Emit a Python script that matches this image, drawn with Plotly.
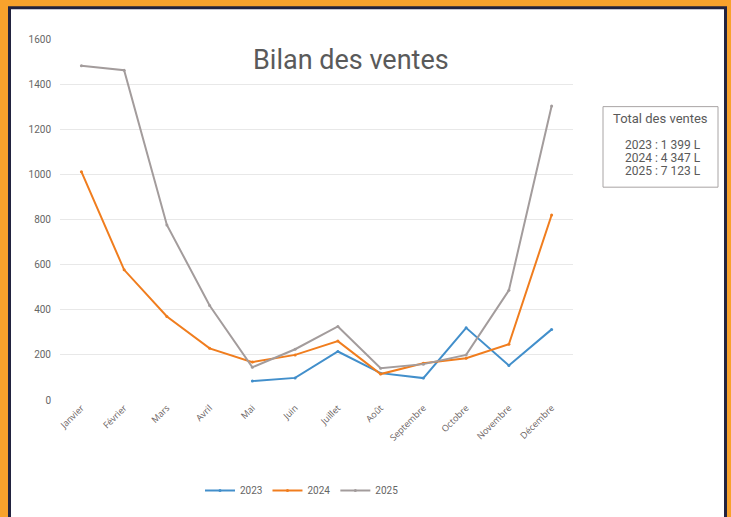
import plotly.graph_objects as go

months = ["Janvier", "Février", "Mars", "Avril", "Mai", "Juin", "Juillet", "Août",
          "Septembre", "Octobre", "Novembre", "Décembre"]
v2023 = [None, None, None, None, 84, 98, 215, 119, 97, 320, 153, 313]
v2024 = [1012, 577, 370, 229, 168, 200, 261, 115, 163, 185, 247, 820]
v2025 = [1481, 1462, 776, 419, 145, 225, 326, 141, 159, 200, 486, 1303]
series_names = ["2023", "2024", "2025"]
colors = ["#428fcb", "#f07d1e", "#a39c9c"]
y_ticks = [0, 200, 400, 600, 800, 1000, 1200, 1400, 1600]
totals_title = "Total des ventes"
totals_lines = ["2023 : 1 399 L", "2024 : 4 347 L", "2025 : 7 123 L"]

W, H = 731, 517
L, R, T, B = 60, 158, 39, 115
PW, PH = W - L - R, H - T - B

def px(x):
    return (x - L) / PW

def py(y):
    return 1 - (y - T) / PH

fig = go.Figure()
for name, vals, c in zip(series_names, [v2023, v2024, v2025], colors):
    fig.add_trace(go.Scatter(x=months, y=vals, name=name, mode="lines+markers",
                             line=dict(color=c, width=2),
                             marker=dict(color=c, size=3),
                             connectgaps=False))

# frame: orange background, navy line, white card
shapes = [
    dict(type="rect", xref="paper", yref="paper", x0=px(8), x1=px(727), y0=py(6), y1=py(H + 10),
         fillcolor="#22233f", line=dict(width=0), layer="below"),
    dict(type="rect", xref="paper", yref="paper", x0=px(11), x1=px(724), y0=py(9), y1=py(H + 10),
         fillcolor="white", line=dict(width=0), layer="below"),
    dict(type="rect", xref="paper", yref="paper", x0=px(603), x1=px(718), y0=py(107), y1=py(188),
         fillcolor="rgba(0,0,0,0)", line=dict(color="#a8a4a4", width=1)),
]

annotations = [
    dict(text="Bilan des ventes", xref="paper", yref="paper", x=px(351), y=py(60),
         showarrow=False, font=dict(family="Roboto", size=27, color="#5a5a5a"),
         xanchor="center", yanchor="middle"),
    dict(text=totals_title, xref="paper", yref="paper", x=px(660), y=py(119),
         showarrow=False, font=dict(family="Roboto", size=13, color="#5a5a5a"),
         xanchor="center", yanchor="middle"),
]
for i, line in enumerate(totals_lines):
    annotations.append(dict(text=line, xref="paper", yref="paper", x=px(663), y=py(146 + 13 * i),
                            showarrow=False, font=dict(family="Roboto", size=12, color="#5a5a5a"),
                            xanchor="center", yanchor="middle"))

fig.update_layout(
    width=W, height=H,
    margin=dict(l=L, r=R, t=T, b=B, pad=0),
    paper_bgcolor="#f8a22c", plot_bgcolor="rgba(0,0,0,0)",
    shapes=shapes, annotations=annotations,
    showlegend=True,
    legend=dict(orientation="h", x=px(302), xanchor="center", y=py(493), yanchor="middle",
                font=dict(family="Roboto", size=10, color="#666"), itemwidth=30,
                bgcolor="rgba(0,0,0,0)"),
    xaxis=dict(type="category", range=[-0.5, 11.5], tickangle=-45, showgrid=False,
               showline=False, ticks="", tickfont=dict(family="Open Sans", size=9, color="#6a6262")),
    yaxis=dict(range=[0, 1600], tickvals=y_ticks, showgrid=True, gridcolor="#e8e8e8",
               gridwidth=1, zeroline=False, showline=False, ticks="",
               tickfont=dict(family="Roboto", size=10, color="#666"), ticklabelstandoff=8),
)

fig.write_html(
    "out.html",
    config={"displayModeBar": False},
    post_script="document.body.style.margin='0';document.body.style.overflow='hidden';"
                "document.body.style.background='#f8a22c';",
)
